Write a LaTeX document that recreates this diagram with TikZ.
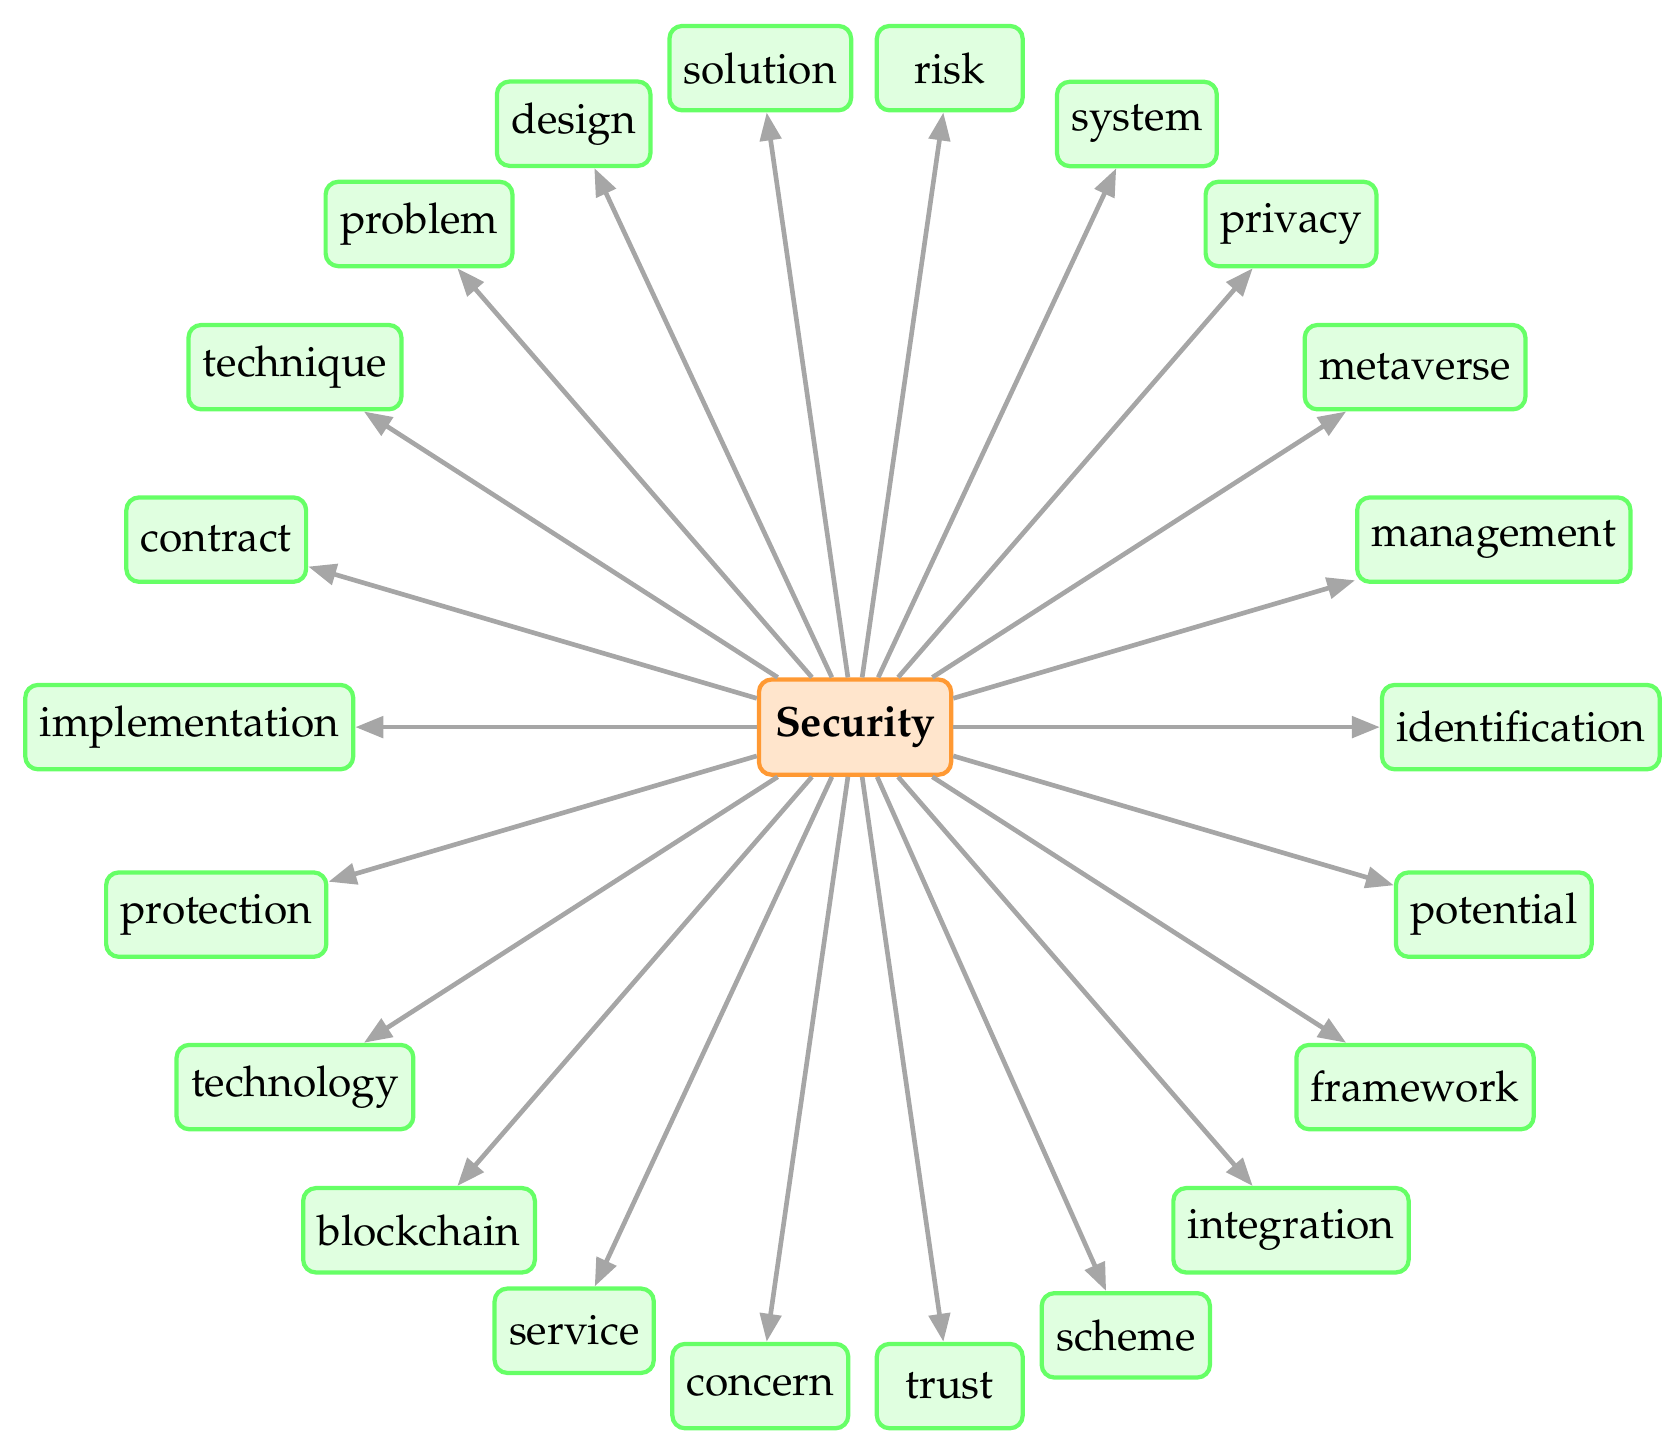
\documentclass[tikz,border=0pt]{standalone}
\IfFileExists{t1ppl.fd}{%
  \usepackage[T1]{fontenc}%
  \renewcommand{\rmdefault}{ppl}%
  \newcommand{\leaffont}{\fontsize{10}{12}\selectfont}%
  \newcommand{\hubfont}{\fontsize{10}{12}\selectfont\bfseries}%
}{%
  \usepackage{fontspec}%
  \setmainfont{Liberation Serif}%
  \newcommand{\leaffont}{\fontsize{11.2}{13}\selectfont}%
  \newcommand{\hubfont}{\fontsize{10.6}{13}\selectfont\bfseries}%
}
\usetikzlibrary{arrows.meta}
\tikzset{
  leaf/.style={draw=green!60, fill=green!12, line width=1pt, rounded corners=3pt,
    minimum height=0.7cm, minimum width=1.21cm, inner xsep=3.4pt, font=\leaffont},
  hub/.style={draw=orange!80, fill=orange!20, line width=1pt, rounded corners=3pt,
    minimum height=0.79cm, inner xsep=3.8pt, font=\hubfont},
  arr/.style={draw=black!35, line width=1.1pt, -{Triangle[length=6.6pt,width=5pt]}}
}
\begin{document}
\begin{tikzpicture}
\useasboundingbox (-7.093,-5.958) rectangle (6.827,6.032);
\node[hub] (sec) at (0,0) {Security};
\foreach \a/\t [count=\i from 0] in {0/identification,16.36/management,32.73/metaverse,49.09/privacy,64.95/system,81.82/risk,98.18/solution,115.0/design,130.91/problem,147.27/technique,163.64/contract,180/implementation,196.36/protection,212.73/technology,229.09/blockchain,245.05/service,261.82/concern,278.18/trust,294.0/scheme,310.91/integration,327.27/framework,343.64/potential}{
  \node[leaf] (n\i) at (\a:5.523) {\t};
  \draw[arr] (sec) -- (n\i);
}
\end{tikzpicture}
\end{document}
